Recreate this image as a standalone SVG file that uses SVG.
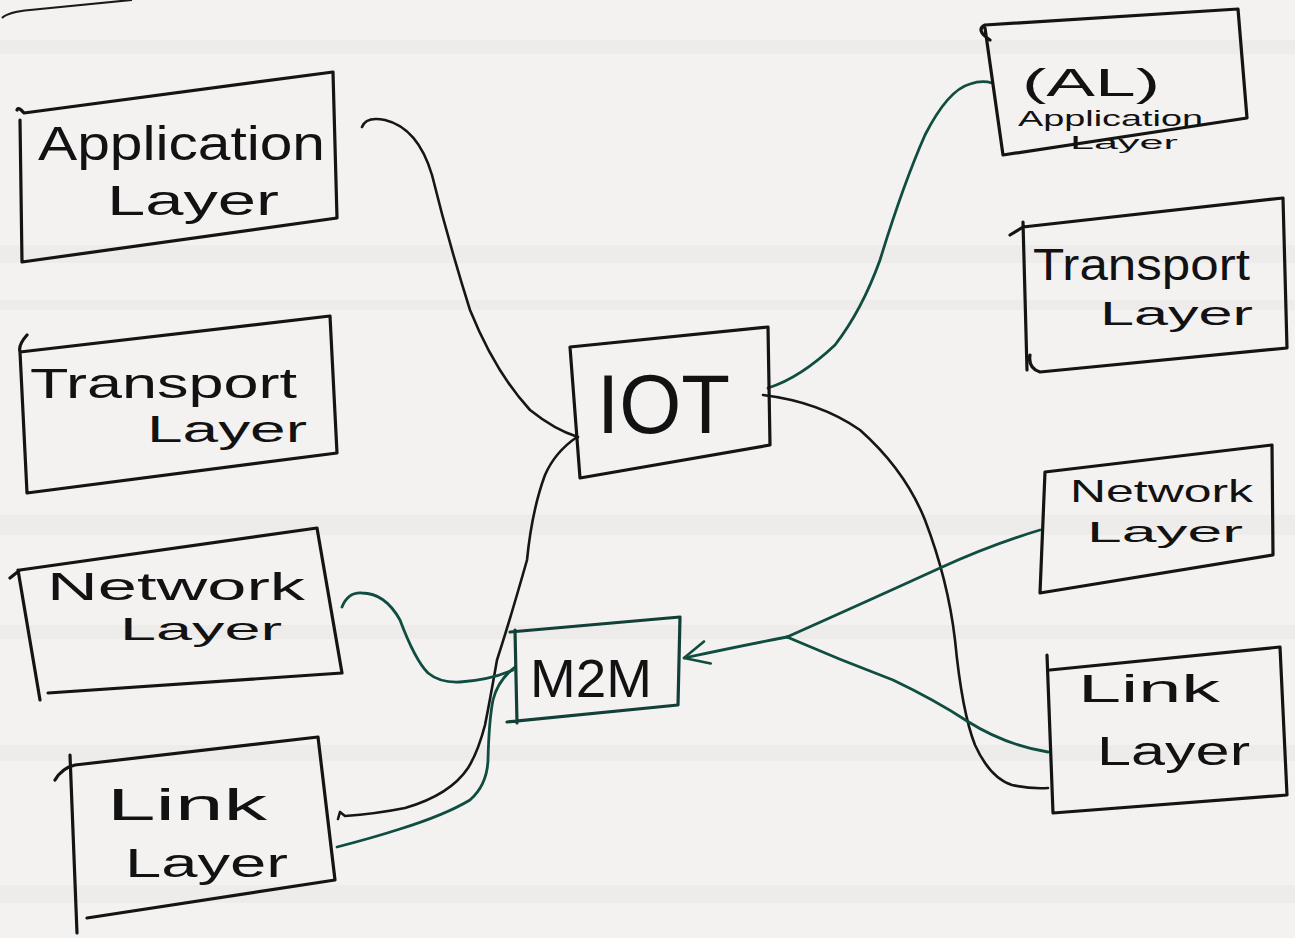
<svg xmlns="http://www.w3.org/2000/svg" width="1295" height="938" viewBox="0 0 1295 938">
<style>
.box{fill:none;stroke:#141414;stroke-width:3.2;stroke-linejoin:round;stroke-linecap:round}
.gbox{fill:none;stroke:#123f36;stroke-width:3.2;stroke-linejoin:round;stroke-linecap:round}
.lbl{font-family:"Liberation Sans","DejaVu Sans",sans-serif;fill:#121212}
.blk{fill:none;stroke:#161616;stroke-width:2.6;stroke-linecap:round;stroke-linejoin:round}
.grn{fill:none;stroke:#0e4d3f;stroke-width:2.8;stroke-linecap:round;stroke-linejoin:round}
.band{fill:#d9d4d4;opacity:0.22}
</style>
<defs>
<marker id="openArrow" viewBox="0 0 28 28" refX="27" refY="14" markerWidth="28" markerHeight="28" markerUnits="userSpaceOnUse" orient="auto">
<path d="M2,3 L27,14 L4,26" fill="none" stroke="#0e4d3f" stroke-width="2.6" stroke-linecap="round" stroke-linejoin="round"/>
</marker>
</defs>
<rect x="0" y="0" width="1295" height="938" fill="#f4f1f1"/>
<g id="paper">
<rect class="band" x="0" y="40" width="1295" height="14"/>
<rect class="band" x="0" y="245" width="1295" height="18"/>
<rect class="band" x="0" y="300" width="1295" height="10"/>
<rect class="band" x="0" y="515" width="1295" height="20"/>
<rect class="band" x="0" y="625" width="1295" height="14"/>
<rect class="band" x="0" y="745" width="1295" height="16"/>
<rect class="band" x="0" y="885" width="1295" height="18"/>
<path d="M2,18 Q8,12 30,10 L132,0" fill="none" stroke="#1a1a1a" stroke-width="2.2"/>
</g>
<g id="connectors">
<path class="blk" d="M362,127 Q366,116 385,120 Q418,128 432,175 Q448,240 470,310 Q495,372 530,410 Q555,430 578,437"/>
<path class="blk" d="M577,437 Q555,452 545,475 Q532,510 527,560 Q510,620 497,660 Q490,700 485,725 Q478,752 468,768 Q450,795 405,808 Q375,814 345,816 L340,812 L338,819"/>
<path class="grn" d="M342,607 Q348,592 362,593 Q385,593 400,620 Q415,660 428,673 Q440,683 460,682 Q490,680 513,670"/>
<path class="grn" d="M337,847 Q372,838 400,829 Q445,815 470,800 Q487,785 488,760 Q489,720 493,700 Q498,680 515,667"/>
<path class="grn" d="M768,388 Q800,378 835,345 Q862,310 880,260 Q903,185 925,135 Q948,90 970,84 Q982,80 992,83"/>
<path class="blk" d="M763,395 Q820,402 860,430 Q905,470 925,520 Q948,580 955,640 Q962,712 975,745 Q990,778 1012,785 Q1030,789 1048,788"/>
<path class="grn" d="M1040,530 Q990,545 940,568 Q870,600 787,637"/>
<path class="grn" d="M787,637 Q840,660 893,680 Q935,700 967,721 Q1005,745 1048,752"/>
<path class="grn" d="M787,637 Q745,645 684,658" marker-end="url(#openArrow)"/>
</g>
<g id="node-app-left">
<path class="box" d="M17,110 Q18,106 24,113 L333,72 L337,218 L22,262 L20,120"/>
<text class="lbl" x="38" y="160" font-size="48" textLength="287" lengthAdjust="spacingAndGlyphs">Application</text>
<text class="lbl" x="107" y="215" font-size="42" textLength="172" lengthAdjust="spacingAndGlyphs">Layer</text>
</g>
<g id="node-transport-left">
<path class="box" d="M27,335 Q18,345 20,352 L330,316 L337,453 L27,493 L20,352"/>
<text class="lbl" x="30" y="398" font-size="42" textLength="267" lengthAdjust="spacingAndGlyphs">Transport</text>
<text class="lbl" x="147" y="442" font-size="36" textLength="160" lengthAdjust="spacingAndGlyphs">Layer</text>
</g>
<g id="node-network-left">
<path class="box" d="M10,578 L20,570 L317,528 L342,673 L48,693 M18,570 L40,700"/>
<text class="lbl" x="47" y="600" font-size="38" textLength="258" lengthAdjust="spacingAndGlyphs">Network</text>
<text class="lbl" x="120" y="640" font-size="32" textLength="162" lengthAdjust="spacingAndGlyphs">Layer</text>
</g>
<g id="node-link-left">
<path class="box" d="M55,780 Q62,768 75,765 L318,737 L335,880 L87,918 M70,755 L77,933"/>
<text class="lbl" x="107" y="820" font-size="44" textLength="160" lengthAdjust="spacingAndGlyphs">Link</text>
<text class="lbl" x="125" y="877" font-size="40" textLength="163" lengthAdjust="spacingAndGlyphs">Layer</text>
</g>
<g id="node-iot">
<path class="box" d="M570,347 L768,327 L770,445 L580,478 L570,347"/>
<text class="lbl" x="597" y="433" font-size="84" textLength="133" lengthAdjust="spacingAndGlyphs">IOT</text>
</g>
<g id="node-m2m">
<path class="gbox" d="M510,632 L680,617 L678,705 L507,722 M515,630 L517,723"/>
<text class="lbl" x="530" y="697" font-size="54" textLength="122" lengthAdjust="spacingAndGlyphs">M2M</text>
</g>
<g id="node-app-right">
<path class="box" d="M990,40 Q975,30 985,25 L1238,9 L1247,118 L1003,155 L985,28"/>
<text class="lbl" x="1022" y="96" font-size="38" textLength="138" lengthAdjust="spacingAndGlyphs">(AL)</text>
<text class="lbl" x="1018" y="126" font-size="22" textLength="185" lengthAdjust="spacingAndGlyphs">Application</text>
<text class="lbl" x="1070" y="149" font-size="18" textLength="108" lengthAdjust="spacingAndGlyphs">Layer</text>
</g>
<g id="node-transport-right">
<path class="box" d="M1010,235 L1023,227 L1283,198 L1287,348 L1040,372 Q1028,368 1030,355 M1023,222 L1027,370"/>
<text class="lbl" x="1033" y="280" font-size="44" textLength="217" lengthAdjust="spacingAndGlyphs">Transport</text>
<text class="lbl" x="1100" y="325" font-size="34" textLength="153" lengthAdjust="spacingAndGlyphs">Layer</text>
</g>
<g id="node-network-right">
<path class="box" d="M1045,472 L1272,445 L1273,555 L1040,593 L1045,472"/>
<text class="lbl" x="1070" y="502" font-size="32" textLength="183" lengthAdjust="spacingAndGlyphs">Network</text>
<text class="lbl" x="1087" y="542" font-size="30" textLength="156" lengthAdjust="spacingAndGlyphs">Layer</text>
</g>
<g id="node-link-right">
<path class="box" d="M1050,670 L1280,647 L1287,795 L1053,813 M1047,655 L1053,813"/>
<text class="lbl" x="1078" y="702" font-size="38" textLength="142" lengthAdjust="spacingAndGlyphs">Link</text>
<text class="lbl" x="1097" y="765" font-size="40" textLength="153" lengthAdjust="spacingAndGlyphs">Layer</text>
</g>
</svg>
